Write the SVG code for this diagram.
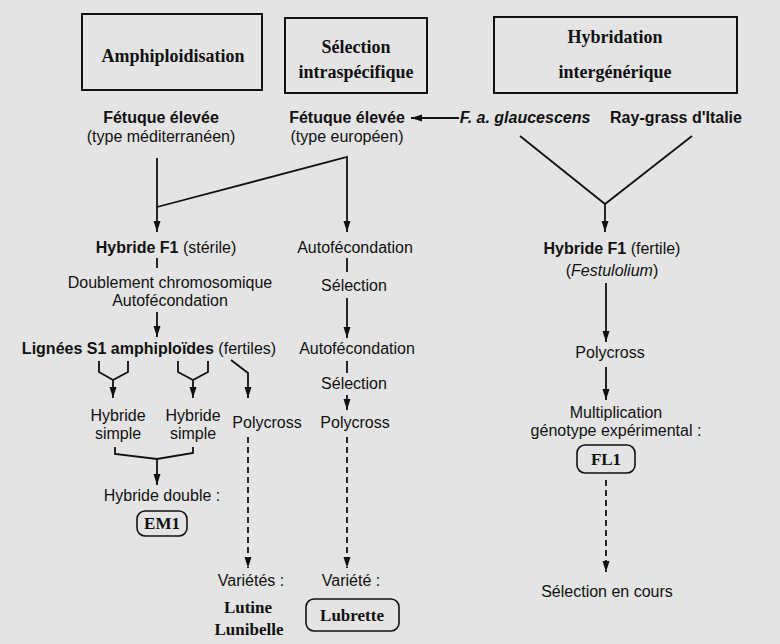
<svg xmlns="http://www.w3.org/2000/svg" width="780" height="644" viewBox="0 0 780 644">
<defs>
<marker id="ah" markerWidth="12" markerHeight="12" refX="11" refY="5" orient="auto" markerUnits="userSpaceOnUse">
<path d="M0,1.5 L11,5 L0,8.5 Z" fill="#111"/>
</marker>
<marker id="ahv" markerWidth="12" markerHeight="12" refX="6" refY="11" orient="0" markerUnits="userSpaceOnUse">
<path d="M2.5,0 L9.5,0 L6,11 Z" fill="#111"/>
</marker>
<style>
.t{font-family:"Liberation Sans",Arial,sans-serif;font-size:16px;fill:#111;text-anchor:middle}
.b{font-weight:bold}
.i{font-style:italic}
.s{font-family:"Liberation Serif","Times New Roman",serif;font-weight:bold;fill:#111;text-anchor:middle;font-size:17px}
.h{font-size:18px}
.box{fill:none;stroke:#111;stroke-width:2}
.rb{fill:none;stroke:#111;stroke-width:1.6}
.ln{fill:none;stroke:#111;stroke-width:1.8}
.ar{fill:none;stroke:#111;stroke-width:1.8;marker-end:url(#ahv)}
.da{fill:none;stroke:#111;stroke-width:1.8;stroke-dasharray:6 4;marker-end:url(#ahv)}
</style>
</defs>
<rect width="780" height="644" fill="#e4e4e4"/>

<g id="connectors">
<line class="ln" x1="459" y1="118" x2="411" y2="118" marker-end="url(#ah)"/>
<path class="ar" d="M157,158 V232"/>
<path class="ar" d="M157,207 L347,157 V232"/>
<path class="ln" d="M157,258 V268"/>
<path class="ln" d="M347,258 V272"/>
<path class="ar" d="M347,298 V338"/>
<path class="ar" d="M157,312 V337"/>
<path class="ln" d="M347,361 V373"/>
<path class="ar" d="M347,395 V410"/>
<path class="ar" d="M99,361 V372 L113,380 L128,372 V361 M113,380 V398"/>
<path class="ar" d="M178,361 V372 L193,380 L208,372 V361 M193,380 V398"/>
<path class="ar" d="M231,360 L248,373 V398"/>
<path class="ar" d="M115,447 V454 L157,459 L193,453 V447 M157,459 V485"/>
<path class="da" d="M248,437 V568"/>
<path class="da" d="M347,437 V568"/>
<path class="ln" d="M520,136 L605,204 L692,136"/>
<path class="ar" d="M605,204 V232"/>
<path class="ar" d="M606,283 V342"/>
<path class="ar" d="M606,367 V400"/>
<path class="da" d="M606,480 V572"/>
</g>

<g id="amphiploidisation"><rect class="box" x="82" y="14" width="180" height="76"/><text class="s h" x="173" y="62">Amphiploidisation</text></g>
<g id="selection-intra"><rect class="box" x="285" y="18" width="142" height="75"/><text class="s h" x="356" y="53">Sélection</text><text class="s h" x="356" y="78">intraspécifique</text></g>
<g id="hybridation"><rect class="box" x="494" y="17" width="243" height="76"/><text class="s h" x="615" y="43">Hybridation</text><text class="s h" x="615" y="78">intergénérique</text></g>

<g id="fetuque-med"><text class="t b" x="161" y="123">Fétuque élevée</text><text class="t" x="161" y="142">(type méditerranéen)</text></g>
<g id="fetuque-eur"><text class="t b" x="347" y="123">Fétuque élevée</text><text class="t" x="347" y="142">(type européen)</text></g>
<g id="glaucescens"><text class="t b i" x="525" y="123">F. a. glaucescens</text></g>
<g id="raygrass"><text class="t b" x="676" y="123">Ray-grass d'Italie</text></g>

<g id="hybride-f1-sterile"><text class="t" x="166" y="253"><tspan class="b">Hybride F1</tspan> (stérile)</text></g>
<g id="doublement"><text class="t" x="170" y="288">Doublement chromosomique</text><text class="t" x="170" y="306">Autofécondation</text></g>
<g id="lignees"><text class="t" x="149" y="354"><tspan class="b">Lignées S1 amphiploïdes</tspan> (fertiles)</text></g>

<g id="autofec1"><text class="t" x="355" y="253">Autofécondation</text></g>
<g id="selection1"><text class="t" x="354" y="291">Sélection</text></g>
<g id="autofec2"><text class="t" x="357" y="354">Autofécondation</text></g>
<g id="selection2"><text class="t" x="354" y="389">Sélection</text></g>
<g id="polycross-mid"><text class="t" x="355" y="428">Polycross</text></g>

<g id="hybride-simple-1"><text class="t" x="118" y="421">Hybride</text><text class="t" x="118" y="439">simple</text></g>
<g id="hybride-simple-2"><text class="t" x="193" y="421">Hybride</text><text class="t" x="193" y="439">simple</text></g>
<g id="polycross-left"><text class="t" x="267" y="428">Polycross</text></g>

<g id="hybride-double"><text class="t" x="162" y="501">Hybride double :</text><rect class="rb" x="137" y="511" width="50" height="25" rx="8"/><text class="s" x="162" y="529">EM1</text></g>

<g id="varietes"><text class="t" x="251" y="586">Variétés :</text><text class="s" x="248" y="613">Lutine</text><text class="s" x="249" y="635">Lunibelle</text></g>
<g id="variete"><text class="t" x="351" y="586">Variété :</text><rect class="rb" x="306" y="599" width="93" height="32" rx="8"/><text class="s" x="352" y="621">Lubrette</text></g>

<g id="hybride-f1-fertile"><text class="t" x="612" y="254"><tspan class="b">Hybride F1</tspan> (fertile)</text><text class="t" x="612" y="276">(<tspan class="i">Festulolium</tspan>)</text></g>
<g id="polycross-right"><text class="t" x="610" y="358">Polycross</text></g>
<g id="multiplication"><text class="t" x="616" y="418">Multiplication</text><text class="t" x="616" y="436">génotype expérimental :</text><rect class="rb" x="577" y="445" width="58" height="28" rx="8"/><text class="s" x="606" y="465">FL1</text></g>
<g id="selection-cours"><text class="t" x="607" y="597">Sélection en cours</text></g>
</svg>
